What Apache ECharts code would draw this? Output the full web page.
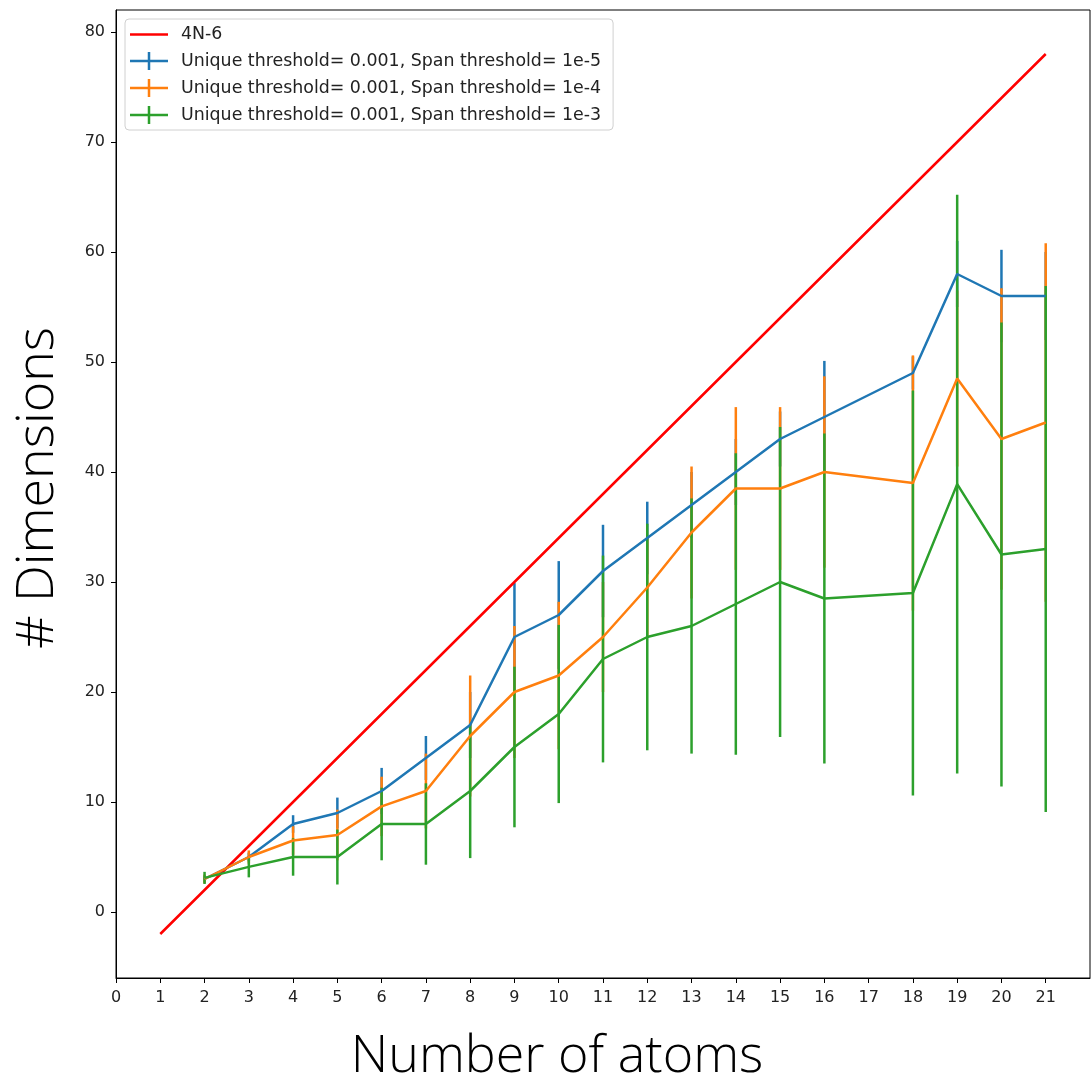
<!DOCTYPE html>
<html>
<head>
<meta charset="utf-8">
<script src="https://cdn.jsdelivr.net/npm/echarts@6/dist/echarts.min.js"></script>
<style>
html,body{margin:0;padding:0;background:#fff;}
#chart{width:1092px;height:1078px;}
</style>
</head>
<body>
<div id="chart"></div>
<script>
// ---- data ----
const refN = [1,2,3,4,5,6,7,8,9,10,11,12,13,14,15,16,17,18,19,20,21];
const refDims = [-2,2,6,10,14,18,22,26,30,34,38,42,46,50,54,58,62,66,70,74,78];

const atoms = [2,3,4,5,6,7,8,9,10,11,12,13,14,15,16,18,19,20,21];

const span1e5Mean = [3,5,8,9,11,14,17,25,27,31,34,37,40,43,45,49,58,56,56];
const span1e5Err  = [0.3,0.4,0.8,1.4,2.1,2.0,3.0,4.9,4.9,4.2,3.3,3.0,3.0,2.5,5.1,1.5,3.0,4.2,4.0];

const span1e4Mean = [3,5,6.5,7,9.6,11,16,20,21.5,25,29.5,34.5,38.5,38.5,40,39,48.5,43,44.5];
const span1e4Err  = [0.4,0.6,1.3,2.3,2.7,3.4,5.5,6.0,6.7,5.0,4.5,6.0,7.4,7.4,8.7,11.6,8.0,13.7,16.3];

const span1e3Mean = [3.1,4.1,5,5,8,8,11,15,18,23,25,26,28,30,28.5,29,38.9,32.5,33];
const span1e3Err  = [0.55,0.95,1.7,2.5,3.3,3.7,6.1,7.3,8.1,9.4,10.3,11.6,13.7,14.1,15,18.4,26.3,21.1,23.9];

const xTicks = [0,1,2,3,4,5,6,7,8,9,10,11,12,13,14,15,16,17,18,19,20,21];
const yTicks = [0,10,20,30,40,50,60,70,80];

const names = {
  ref: '4N-6',
  s5: 'Unique threshold= 0.001, Span threshold= 1e-5',
  s4: 'Unique threshold= 0.001, Span threshold= 1e-4',
  s3: 'Unique threshold= 0.001, Span threshold= 1e-3'
};
const colors = {ref:'#ff0000', s5:'#1f77b4', s4:'#ff7f0e', s3:'#2ca02c'};

// ---- build ----
function pts(xs, ys){ return xs.map((x,i)=>[x, ys[i]]); }
function errPts(xs, ys, es){ return xs.map((x,i)=>[x, ys[i], es[i]]); }

function errSeries(name, color, xs, ys, es){
  return {
    type:'custom', name:name, z:2,
    data: errPts(xs, ys, es),
    encode:{x:0, y:1},
    itemStyle:{color:color},
    renderItem:function(params, api){
      const x = api.value(0), y = api.value(1), e = api.value(2);
      const p1 = api.coord([x, y - e]);
      const p2 = api.coord([x, y + e]);
      return {type:'line', shape:{x1:p1[0], y1:p1[1], x2:p2[0], y2:p2[1]},
              style:{stroke:color, lineWidth:2.5}};
    },
    silent:true
  };
}
function lineSeries(name, color, data){
  return {
    type:'line', name:name, z:3, data:data,
    symbol:'none', showSymbol:false,
    lineStyle:{color:color, width:2.5},
    itemStyle:{color:color},
    animation:false, silent:true
  };
}

const crossIcon = 'path://M0,7.75h38v2.5h-38z M17.75,0h2.5v18h-2.5z';
const lineIcon = 'path://M0,0h38v2.5h-38z';

const chart = echarts.init(document.getElementById('chart'));
chart.setOption({
  animation:false,
  backgroundColor:'#fff',
  grid:{left:116, right:2, top:10, bottom:100, show:true, borderColor:'#000', borderWidth:1,
        containLabel:false, outerBoundsMode:'none'},
  legend:{
    orient:'vertical', left:125, top:19,
    backgroundColor:'#fff', borderColor:'#d0d0d0', borderWidth:1, borderRadius:4,
    padding:[7,12,6,5],
    itemWidth:38, itemHeight:18, itemGap:9,
    textStyle:{fontFamily:'DejaVu Sans', fontSize:17.4, color:'#222', padding:[0,0,0,8]},
    selectedMode:false,
    data:[
      {name:names.ref, icon:lineIcon, itemStyle:{color:colors.ref}},
      {name:names.s5, icon:crossIcon, itemStyle:{color:colors.s5}},
      {name:names.s4, icon:crossIcon, itemStyle:{color:colors.s4}},
      {name:names.s3, icon:crossIcon, itemStyle:{color:colors.s3}}
    ]
  },
  xAxis:{
    type:'value', min:0, max:22,
    name:'Number of atoms', nameLocation:'middle', nameGap:53,
    nameTextStyle:{fontFamily:'Open Sans', fontWeight:300, fontSize:52, color:'#000', padding:[0,92,0,0]},
    axisLine:{show:true, onZero:false, lineStyle:{color:'#000', width:1}},
    axisTick:{show:true, length:5, lineStyle:{color:'#000'}, customValues:xTicks},
    axisLabel:{fontFamily:'DejaVu Sans', fontSize:16, color:'#222', margin:12, customValues:xTicks},
    splitLine:{show:false}
  },
  yAxis:{
    type:'value', min:-6, max:82,
    name:'# Dimensions', nameLocation:'middle', nameGap:52, nameRotate:90,
    nameTextStyle:{fontFamily:'Open Sans', fontWeight:300, fontSize:52, color:'#000', padding:[0,0,0,12]},
    axisLine:{show:true, onZero:false, lineStyle:{color:'#000', width:1}},
    axisTick:{show:true, length:5, lineStyle:{color:'#000'}, customValues:yTicks},
    axisLabel:{fontFamily:'DejaVu Sans', fontSize:16, color:'#222', margin:11, customValues:yTicks},
    splitLine:{show:false}
  },
  series:[
    errSeries(names.s5, colors.s5, atoms, span1e5Mean, span1e5Err),
    errSeries(names.s4, colors.s4, atoms, span1e4Mean, span1e4Err),
    errSeries(names.s3, colors.s3, atoms, span1e3Mean, span1e3Err),
    lineSeries(names.ref, colors.ref, pts(refN, refDims)),
    lineSeries(names.s5, colors.s5, pts(atoms, span1e5Mean)),
    lineSeries(names.s4, colors.s4, pts(atoms, span1e4Mean)),
    lineSeries(names.s3, colors.s3, pts(atoms, span1e3Mean))
  ]
});
</script>
</body>
</html>
